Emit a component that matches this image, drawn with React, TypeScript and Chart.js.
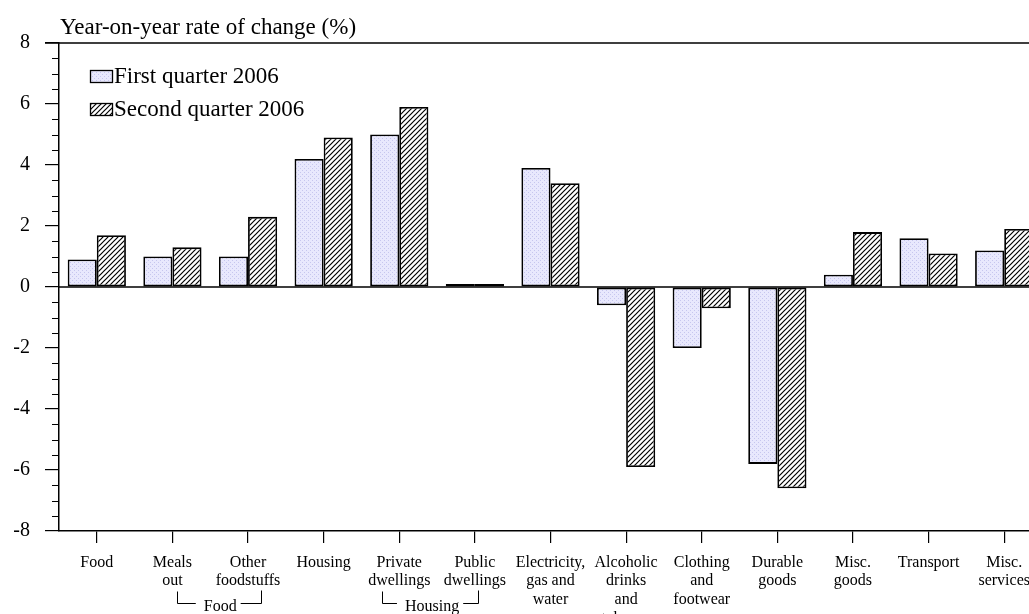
import React, { useEffect, useRef } from "react";
import { Chart, registerables } from "chart.js";

Chart.register(...registerables);

const categories: (string | string[])[] = [
  "Food",
  ["Meals", "out"],
  ["Other", "foodstuffs"],
  "Housing",
  ["Private", "dwellings"],
  ["Public", "dwellings"],
  ["Electricity,", "gas and", "water"],
  ["Alcoholic", "drinks", "and", "tobacco"],
  ["Clothing", "and", "footwear"],
  ["Durable", "goods"],
  ["Misc.", "goods"],
  "Transport",
  ["Misc.", "services"],
];
const q1Values = [0.9, 1.0, 1.0, 4.2, 5.0, 0.1, 3.9, -0.6, -2.0, -5.8, 0.4, 1.6, 1.2];
const q2Values = [1.7, 1.3, 2.3, 4.9, 5.9, 0.1, 3.4, -5.9, -0.7, -6.6, 1.8, 1.1, 1.9];
const seriesNames = ["First quarter 2006", "Second quarter 2006"];
const yTitle = "Year-on-year rate of change (%)";
const groupBrackets = [
  { label: "Food", from: 1, to: 2 },
  { label: "Housing", from: 4, to: 5 },
];

const FONT = "'Liberation Serif', 'Times New Roman', serif";

function makeDotPattern(): CanvasPattern | string {
  const c = document.createElement("canvas");
  c.width = 4;
  c.height = 4;
  const g = c.getContext("2d");
  if (!g) return "#e6e6fc";
  g.fillStyle = "#e8e8fd";
  g.fillRect(0, 0, 4, 4);
  g.fillStyle = "#c6c6ee";
  g.fillRect(0, 0, 1, 1);
  g.fillRect(2, 2, 1, 1);
  const p = g.createPattern(c, "repeat");
  return p || "#e6e6fc";
}

function makeHatchPattern(): CanvasPattern | string {
  const s = 5;
  const c = document.createElement("canvas");
  c.width = s;
  c.height = s;
  const g = c.getContext("2d");
  if (!g) return "#ffffff";
  g.fillStyle = "#ffffff";
  g.fillRect(0, 0, s, s);
  g.strokeStyle = "#000000";
  g.lineWidth = 1.2;
  g.beginPath();
  g.moveTo(-1, s + 1);
  g.lineTo(s + 1, -1);
  g.moveTo(-1, 1);
  g.lineTo(1, -1);
  g.moveTo(s - 1, s + 1);
  g.lineTo(s + 1, s - 1);
  g.stroke();
  const p = g.createPattern(c, "repeat");
  return p || "#ffffff";
}

export default function App() {
  const ref = useRef<HTMLCanvasElement | null>(null);

  useEffect(() => {
    const canvas = ref.current;
    if (!canvas) return;
    const dots = makeDotPattern();
    const hatch = makeHatchPattern();

    const decor = {
      id: "decor",
      afterDraw(chart: any) {
        const ctx = chart.ctx as CanvasRenderingContext2D;
        const area = chart.chartArea;
        const y = chart.scales.y;
        const x = chart.scales.x;
        ctx.save();
        ctx.strokeStyle = "#000";
        // minor ticks
        ctx.lineWidth = 1.2;
        ctx.beginPath();
        for (let v = -8; v <= 8; v += 0.5) {
          if (Math.abs(v % 2) < 1e-9) continue;
          const py = Math.round(y.getPixelForValue(v)) + 0.5;
          ctx.moveTo(area.left - 7, py);
          ctx.lineTo(area.left, py);
        }
        ctx.stroke();
        // zero line
        ctx.lineWidth = 1.5;
        ctx.beginPath();
        const zy = y.getPixelForValue(0);
        ctx.moveTo(area.left, zy);
        ctx.lineTo(area.right, zy);
        // top line
        ctx.moveTo(area.left - 14, area.top);
        ctx.lineTo(area.right, area.top);
        ctx.stroke();

        // title
        ctx.fillStyle = "#000";
        ctx.font = `23px ${FONT}`;
        ctx.textAlign = "left";
        ctx.textBaseline = "alphabetic";
        ctx.fillText(yTitle, 60, 34);

        // legend
        const fills = [dots, hatch];
        const rows = [76, 109];
        for (let i = 0; i < 2; i++) {
          const by = rows[i] - 6;
          ctx.fillStyle = fills[i] as any;
          ctx.fillRect(90, by, 22, 12);
          ctx.lineWidth = 1.3;
          ctx.strokeStyle = "#000";
          ctx.strokeRect(90.5, by + 0.5, 22, 12);
          ctx.fillStyle = "#000";
          ctx.font = `23px ${FONT}`;
          ctx.textBaseline = "middle";
          ctx.fillText(seriesNames[i], 114, rows[i] + 1);
        }

        // group brackets
        ctx.font = `16px ${FONT}`;
        ctx.textAlign = "center";
        ctx.textBaseline = "middle";
        ctx.lineWidth = 1;
        ctx.strokeStyle = "#000";
        for (const b of groupBrackets) {
          const x1 = x.getPixelForTick(b.from);
          const x2 = x.getPixelForTick(b.to);
          const mid = (x1 + x2) / 2;
          const tw = ctx.measureText(b.label).width;
          const textCx = b.label === "Food" ? mid + 10 : mid - 5;
          const left = x1 + (b.label === "Food" ? 5 : -17);
          const right = x2 + (b.label === "Food" ? 13 : 3);
          const top = 591.5;
          const hy = 603.5;
          ctx.beginPath();
          ctx.moveTo(Math.round(left) + 0.5, top);
          ctx.lineTo(Math.round(left) + 0.5, hy);
          ctx.lineTo(textCx - tw / 2 - 8, hy);
          ctx.moveTo(textCx + tw / 2 + 4, hy);
          ctx.lineTo(Math.round(right) + 0.5, hy);
          ctx.lineTo(Math.round(right) + 0.5, top - 1);
          ctx.stroke();
          ctx.fillText(b.label, textCx, hy + 3);
        }
        ctx.restore();
      },
    };

    const chart = new Chart(canvas, {
      type: "bar",
      data: {
        labels: categories as any,
        datasets: [
          {
            label: seriesNames[0],
            data: q1Values,
            backgroundColor: dots as any,
            borderColor: "#000",
            borderWidth: 1.8,
            borderSkipped: false,
          },
          {
            label: seriesNames[1],
            data: q2Values,
            backgroundColor: hatch as any,
            borderColor: "#000",
            borderWidth: 1.8,
            borderSkipped: false,
          },
        ],
      },
      options: {
        responsive: false,
        animation: false,
        devicePixelRatio: 1,
        layout: { padding: { top: 43, left: 0, right: 0, bottom: 0 } },
        datasets: { bar: { barPercentage: 1, categoryPercentage: 0.77 } } as any,
        plugins: {
          legend: { display: false },
          tooltip: { enabled: false },
          title: { display: false },
        },
        scales: {
          x: {
            offset: true,
            grid: {
              display: true,
              drawOnChartArea: false,
              offset: false,
              tickLength: 12,
              color: "#000",
              lineWidth: 1.2,
            },
            border: { display: true, color: "#000", width: 1.5 },
            ticks: {
              color: "#000",
              font: { family: FONT, size: 16, lineHeight: 1.17 },
              padding: 10,
              maxRotation: 0,
              minRotation: 0,
              autoSkip: false,
            },
            afterFit: (s: any) => {
              s.height = 83;
            },
          },
          y: {
            min: -8,
            max: 8,
            ticks: {
              stepSize: 2,
              color: "#000",
              font: { family: FONT, size: 20 },
              padding: 15,
            },
            grid: {
              display: true,
              drawOnChartArea: false,
              tickLength: 14,
              color: "#000",
              lineWidth: 1.2,
            },
            border: { display: true, color: "#000", width: 1.5 },
            afterFit: (s: any) => {
              s.width = 59;
            },
          },
        },
      },
      plugins: [decor],
    });
    return () => chart.destroy();
  }, []);

  return (
    <div
      style={{
        position: "fixed",
        left: 0,
        top: 0,
        width: 1029,
        height: 614,
        overflow: "hidden",
        background: "#fff",
      }}
    >
      <canvas ref={ref} width={1042} height={614} style={{ display: "block" }} />
    </div>
  );
}
